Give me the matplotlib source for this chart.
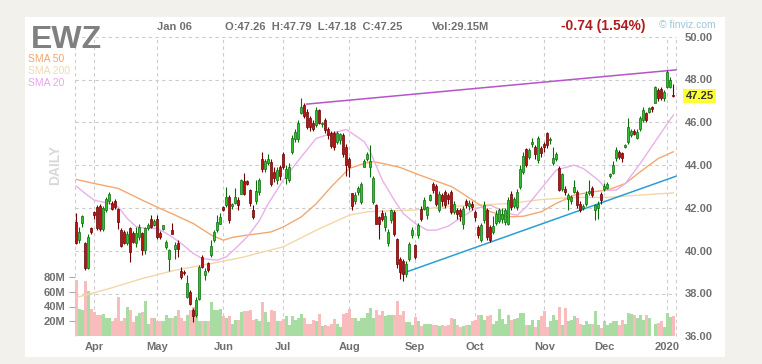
import matplotlib
matplotlib.use("Agg")
import matplotlib.pyplot as plt
from matplotlib.patches import Rectangle
import matplotlib.transforms as mtransforms

plt.rcParams['font.family'] = ['Liberation Sans', 'DejaVu Sans']

# ---------------- data ----------------
ticker = "EWZ"
opens = [41.35,40.49,41.30,40.34,39.17,41.07,41.79,42.05,42.10,41.00,
         41.90,42.30,42.24,42.30,41.97,40.96,40.88,40.34,41.04,40.84,
         40.37,40.65,40.84,40.02,41.04,41.50,41.20,41.47,40.84,41.00,
         40.15,39.63,40.95,40.10,40.34,39.06,39.00,37.84,38.08,37.22,
         36.98,37.76,39.71,38.86,39.43,39.79,40.49,40.96,41.27,42.05,
         42.13,42.52,42.07,42.24,42.36,42.67,43.25,43.25,42.83,41.90,
         42.30,42.75,44.28,43.80,44.10,44.15,43.70,43.30,43.90,44.50,
         43.40,43.30,44.62,45.20,45.20,46.45,46.80,46.50,46.18,45.98,
         45.87,46.57,45.90,46.10,45.70,45.50,45.48,45.10,45.15,45.40,
         44.86,44.30,42.70,42.30,42.75,42.28,43.90,44.30,43.90,42.28,
         42.13,41.58,41.74,41.10,40.34,41.43,41.80,40.57,39.63,39.50,
         38.93,39.63,40.72,40.26,40.72,41.97,41.97,41.66,42.36,43.14,
         43.00,41.90,42.60,42.75,42.60,42.75,41.82,41.90,41.90,41.27,
         42.30,42.10,42.20,41.80,41.12,40.49,41.43,41.90,41.12,40.88,
         41.30,41.40,41.50,41.35,41.27,42.64,42.10,42.05,42.98,43.69,
         44.73,44.40,45.00,44.86,44.23,44.80,45.00,45.48,45.15,44.10,
         44.30,43.88,42.86,42.90,42.40,42.30,42.75,42.75,42.20,42.00,
         42.20,42.70,42.95,41.90,42.00,42.67,42.86,42.95,43.50,43.64,
         44.31,44.62,44.55,44.85,45.09,45.40,45.60,45.25,45.70,46.10,
         46.42,46.50,46.70,46.92,47.53,47.55,47.15,47.66,47.66,47.26]
highs = [41.74,41.10,41.66,40.40,40.80,41.12,41.85,42.15,42.20,42.10,
         42.50,42.75,42.30,42.40,42.00,41.05,40.95,40.90,41.10,40.90,
         41.12,41.27,40.88,41.10,41.30,41.66,41.50,41.66,40.90,41.20,
         40.49,40.10,41.30,40.41,40.50,39.24,39.10,38.86,38.15,37.30,
         37.84,39.32,39.79,39.17,39.48,40.49,40.96,41.66,41.74,42.10,
         42.98,42.60,42.25,42.95,42.52,43.33,43.61,43.30,42.90,42.13,
         43.30,43.40,44.60,44.30,44.50,44.30,43.90,43.90,44.00,44.60,
         44.00,44.10,45.40,45.70,46.10,47.12,46.90,46.60,46.30,46.10,
         46.70,46.60,46.00,46.20,45.80,45.60,45.60,45.60,45.50,45.50,
         45.00,44.40,42.70,42.75,43.00,43.20,44.30,44.60,44.95,43.50,
         42.20,41.60,41.90,41.80,41.00,41.95,41.90,40.60,39.70,39.60,
         39.50,40.40,41.10,40.30,41.30,42.10,42.50,42.10,42.65,43.20,
         43.10,42.80,42.70,42.85,42.70,42.85,42.30,42.00,42.00,42.10,
         42.40,42.35,42.30,41.90,41.20,41.30,42.30,42.00,41.20,41.60,
         41.90,42.00,42.00,42.00,42.50,42.80,42.50,42.90,44.00,44.60,
         44.80,44.80,45.25,44.95,45.35,44.90,45.10,45.55,45.30,44.85,
         44.60,43.95,43.65,43.00,42.70,42.60,43.30,42.85,42.30,42.20,
         42.80,43.30,43.00,42.20,42.30,42.75,43.15,43.20,43.65,44.20,
         44.85,44.70,44.60,45.00,46.20,45.70,45.70,45.70,46.30,46.70,
         46.50,46.70,46.75,47.70,47.60,47.65,47.50,48.45,48.10,47.79]
lows = [40.30,40.37,41.12,39.10,39.15,40.80,41.50,40.95,40.90,40.90,
        41.80,42.20,41.90,41.95,41.00,40.18,40.30,40.26,39.45,40.35,
        40.18,40.50,39.80,39.85,40.95,41.05,41.15,40.57,40.55,40.95,
        40.10,39.06,40.80,39.63,39.70,38.70,38.85,37.80,37.45,36.67,
        36.90,37.69,39.17,38.62,39.00,39.71,40.41,40.88,41.24,41.85,
        42.05,41.30,41.95,42.20,41.90,42.64,42.60,43.05,42.10,41.50,
        42.20,42.60,43.70,43.70,44.00,43.00,43.20,43.10,43.30,43.80,
        43.10,43.20,44.50,45.10,45.10,46.40,46.20,45.70,45.60,45.60,
        45.80,45.90,45.80,45.50,45.20,44.80,44.70,45.00,45.00,44.40,
        43.50,43.45,41.90,42.20,42.60,42.20,43.90,44.20,43.45,42.20,
        41.27,40.57,41.40,40.90,40.20,41.30,40.70,39.20,38.70,38.60,
        38.75,39.50,40.60,39.60,40.60,41.40,41.90,41.50,42.30,42.70,
        42.10,41.80,42.10,42.00,42.20,41.70,41.70,41.50,41.40,41.00,
        42.00,41.90,41.90,41.40,40.60,40.40,41.30,40.50,40.40,40.80,
        41.20,41.30,41.30,41.20,41.20,41.90,42.00,41.90,42.90,43.60,
        43.90,44.30,44.85,44.30,44.10,44.40,44.60,44.80,45.00,44.00,
        44.20,42.80,42.80,42.60,41.90,42.20,42.70,42.00,41.80,41.90,
        42.10,42.60,42.50,41.45,41.50,42.20,42.80,42.90,43.40,43.60,
        44.20,44.30,44.15,44.80,45.00,45.30,45.40,45.20,45.60,46.00,
        46.00,46.45,46.50,46.90,47.00,47.05,47.00,47.60,47.60,47.18]
closes = [40.34,40.88,41.62,39.17,40.65,40.88,41.66,41.04,41.00,42.00,
          42.40,42.63,41.97,42.05,41.35,40.23,40.34,40.80,39.95,40.41,
          40.84,41.12,40.02,41.07,41.22,41.12,41.38,40.65,40.62,41.18,
          40.41,40.05,40.80,40.26,40.10,38.75,38.94,38.47,37.53,36.94,
          37.69,39.24,39.24,39.06,39.10,40.24,40.88,41.35,41.58,41.90,
          42.52,41.43,42.17,42.52,42.13,43.30,42.64,43.11,42.21,41.58,
          42.80,43.30,43.80,44.20,44.30,43.14,43.40,43.75,43.50,43.90,
          43.80,43.90,45.25,45.56,45.95,46.73,46.30,45.80,45.79,45.67,
          46.57,45.95,45.95,45.64,45.40,44.90,44.86,45.48,45.45,44.50,
          44.00,43.90,42.10,42.60,42.95,43.14,44.20,44.50,44.20,43.38,
          41.27,41.27,41.50,41.60,40.88,41.90,40.80,39.40,39.00,38.93,
          39.40,40.33,40.96,39.70,41.19,41.50,42.36,42.05,42.60,42.83,
          42.20,42.67,42.30,42.13,42.40,41.82,42.17,41.70,41.60,41.97,
          42.15,42.25,42.05,41.58,40.72,41.19,42.13,40.65,40.49,41.15,
          41.70,41.90,41.70,41.90,42.36,42.05,42.40,42.75,43.84,44.42,
          44.00,44.70,45.10,44.50,45.25,44.55,44.85,44.93,45.20,44.35,
          44.50,42.83,43.58,42.75,42.60,42.50,42.98,42.13,41.90,42.10,
          42.67,42.80,42.60,42.13,42.20,42.36,43.02,43.10,43.60,44.00,
          44.70,44.36,44.31,44.92,45.80,45.60,45.45,45.56,46.18,46.57,
          46.10,46.65,46.60,47.66,47.12,47.15,47.40,48.36,47.99,47.25]
volume_m = [75.6,36.7,35.0,74.0,61.0,37.0,32.0,29.0,29.0,30.0,
            24.0,24.0,20.0,24.0,53.0,21.0,24.0,39.0,35.0,19.0,
            27.0,31.0,32.0,48.0,17.0,24.0,24.0,21.0,20.0,20.0,
            29.0,24.0,24.0,27.0,35.0,24.0,20.0,29.0,35.0,40.0,
            31.0,21.0,20.0,20.0,21.0,45.5,35.0,35.0,37.0,27.0,
            24.0,27.0,17.0,22.0,22.0,32.0,34.0,34.0,35.0,22.0,
            23.0,20.0,46.0,32.0,19.0,35.0,34.0,21.0,20.0,23.0,
            27.0,15.0,27.0,22.0,24.0,30.0,24.0,17.0,17.0,22.0,
            20.0,30.0,14.0,15.0,14.0,17.0,23.0,17.0,13.0,30.0,
            31.0,37.0,25.0,25.0,20.0,24.0,25.0,31.0,38.0,24.0,
            35.0,28.0,34.0,27.0,28.0,28.0,29.0,48.0,29.0,34.0,
            19.0,19.0,15.0,26.0,20.0,14.0,17.0,17.0,17.0,15.0,
            15.0,14.0,15.0,14.0,15.0,24.0,23.0,15.0,13.0,14.0,
            15.0,15.0,20.0,22.0,29.0,28.0,22.0,27.0,28.0,16.0,
            20.0,36.0,23.0,16.0,29.0,22.0,23.0,24.0,31.0,31.0,
            15.0,15.0,22.0,13.0,22.0,27.0,34.0,12.0,20.0,29.0,
            22.0,39.0,15.0,38.0,20.0,22.0,27.0,24.0,17.0,15.0,
            20.0,17.0,17.0,34.0,15.0,11.0,21.0,15.0,18.0,21.0,
            20.0,15.0,22.0,17.0,31.0,30.0,29.0,24.0,29.0,22.0,
            29.0,24.0,1.0,17.0,18.0,20.0,12.0,31.0,26.0,27.0]

month_pos = [6, 27, 49, 69, 91, 113, 133, 156, 176, 197]
month_labels = ["Apr", "May", "Jun", "Jul", "Aug", "Sep", "Oct", "Nov", "Dec", "2020"]

sma50_x = [0,6,14,22,28,33,39,45,49,52,57,61,65,69,75,80,85,91,96,99,102,108,113,119,
           125,127,133,138,144,149,155,160,166,172,177,183,188,194,199]
sma50_v = [43.33,43.14,42.91,42.36,41.97,41.66,41.27,40.73,40.49,40.62,40.73,40.80,40.88,41.11,41.58,
           42.20,42.99,43.84,44.08,44.16,44.08,43.89,43.61,43.30,
           43.00,42.83,42.28,41.82,41.58,41.61,41.82,42.21,42.60,42.75,42.83,43.14,43.69,44.31,44.62]
sma200_x = [0,11,22,33,45,56,61,69,80,91,97,102,113,121,133,144,155,166,177,188,199]
sma200_v = [37.81,38.23,38.70,39.09,39.40,39.71,39.90,40.18,40.96,41.66,41.82,41.85,41.90,42.03,42.13,
            42.20,42.39,42.49,42.49,42.60,42.70]
sma20_x = [0,3,6,11,14,17,20,23,27,31,35,39,42,47,50,53,57,61,64,69,75,80,85,90,92,96,98,102,
           106,109,113,117,120,124,127,133,138,144,147,150,155,160,166,169,174,177,180,183,188,194,199]
sma20_v = [43.02,42.67,42.36,42.21,42.05,41.50,41.12,41.04,41.04,40.73,40.34,39.87,39.63,39.56,39.71,
           40.10,40.65,41.40,42.20,43.30,44.39,45.25,45.48,45.67,45.48,45.09,44.62,43.30,42.36,41.74,
           41.27,40.96,40.96,41.15,41.43,41.97,42.13,41.74,41.66,42.05,42.91,43.77,44.00,43.84,43.30,
           42.83,42.83,43.14,44.08,45.32,46.34]

upper_trend_x = [76.8, 199.9]
upper_trend_v = [46.85, 48.45]
lower_trend_x = [108.5, 199.9]
lower_trend_v = [38.93, 43.48]

price_ticks = [36, 38, 40, 42, 44, 46, 48, 50]
vol_ticks = [20, 40, 60, 80]
last_price = 47.25

# ---------------- figure ----------------
W, H = 762, 364
fig = plt.figure(figsize=(W / 100, H / 100), dpi=100)
fig.patch.set_facecolor('#f2f1ec')
fig.patches.append(Rectangle((25 / W, 1 - 357 / H), 700 / W, 340 / H,
                             transform=fig.transFigure, facecolor='white',
                             edgecolor='none', zorder=-5))

ax_bottom = 336.3
ax_top = 36.7
axv = fig.add_axes([75 / W, (H - ax_bottom) / H, 601 / W, (ax_bottom - ax_top) / H])
axv.set_facecolor('none')
ax = axv.twinx()
ax.set_facecolor('none')

xmin, xmax = -0.43, 199.9
axv.set_xlim(xmin, xmax)
ax.set_xlim(xmin, xmax)
ax.set_ylim(36, 50)
vol_max = 80 * (ax_bottom - ax_top) / 59.6
axv.set_ylim(0, vol_max)

for a in (ax, axv):
    for s in a.spines.values():
        s.set_visible(False)

grid_c = '#cccccc'
for p in price_ticks[1:]:
    f = (p - 36) / 14
    axv.plot([0, 1], [f, f], transform=axv.transAxes, color=grid_c, lw=0.8,
             ls=(0, (3, 3)), zorder=0.5, clip_on=False)
for m in month_pos:
    axv.axvline(m, color=grid_c, lw=0.8, ls=(0, (3, 3)), zorder=0.5)
for xe in (xmin, xmax):
    axv.axvline(xe, color=grid_c, lw=0.8, ls=(0, (3, 3)), zorder=0.5, clip_on=False)

idx = list(range(len(closes)))
up = [c >= o for o, c in zip(opens, closes)]

vcols = ['#a9dca3' if u else '#f9bcbc' for u in up]
axv.bar(idx, volume_m, width=1.0, color=vcols, edgecolor='none', zorder=1)

ax.plot(sma200_x, sma200_v, color='#f4d7a6', lw=1.0, zorder=2)
ax.plot(sma50_x, sma50_v, color='#f4a870', lw=1.0, zorder=2)
ax.plot(sma20_x, sma20_v, color='#eab0ea', lw=1.0, zorder=2)

ax.plot(upper_trend_x, upper_trend_v, color='#b555c9', lw=1.1, zorder=3, clip_on=False)
ax.plot(lower_trend_x, lower_trend_v, color='#2b9ed6', lw=1.1, zorder=3, clip_on=False)

for i in idx:
    o, h, l, c = opens[i], highs[i], lows[i], closes[i]
    if up[i]:
        fill, edge = '#2fbf2f', '#0b6e0b'
    else:
        fill, edge = '#b81414', '#6e0000'
    ax.vlines(i, l, h, color=edge, lw=0.8, zorder=4)
    bot = min(o, c)
    hgt = max(abs(c - o), 0.04)
    ax.bar(i, hgt, bottom=bot, width=0.72, color=fill, edgecolor=edge,
           linewidth=0.5, zorder=5)

lbl_c = '#707070'
ax.set_yticks(price_ticks)
ax.set_yticklabels([f"{p:.2f}" for p in price_ticks])
ax.tick_params(axis='y', length=0, pad=6.5, labelsize=8, labelcolor=lbl_c)
for t in ax.get_yticklabels():
    t.set_fontweight('bold')

axv.set_yticks(vol_ticks)
axv.set_yticklabels([f"{v}M" for v in vol_ticks])
axv.tick_params(axis='y', length=4, width=0.8, color='#aaaaaa', pad=3,
                labelsize=8, labelcolor=lbl_c)
for t in axv.get_yticklabels():
    t.set_fontweight('bold')

axv.set_xticks(month_pos)
axv.set_xticklabels(month_labels)
axv.tick_params(axis='x', length=0, pad=4, labelsize=8, labelcolor=lbl_c)
for t in axv.get_xticklabels():
    t.set_fontweight('bold')
ax.tick_params(axis='x', length=0, labelbottom=False)

blend = mtransforms.blended_transform_factory(ax.transAxes, ax.transData)
ax.text(1.0 + 9.5 / 601, last_price, f"{last_price:.2f}", transform=blend,
        ha='left', va='center', fontsize=8, fontweight='bold', color='#333333',
        bbox=dict(boxstyle='square,pad=0.18', facecolor='#ffff33', edgecolor='none'),
        zorder=10, clip_on=False)

def fx(px):
    return px / W

def fy(py):
    return 1 - py / H

fig.text(fx(31), fy(48), ticker, fontsize=23, fontweight='bold', color='#808080', va='baseline')
fig.text(fx(157), fy(27), "Jan 06", fontsize=8, fontweight='bold', color='#707070', va='center')
fig.text(fx(225), fy(27), "O:47.26  H:47.79  L:47.18  C:47.25", fontsize=8, fontweight='bold',
         color='#707070', va='center')
fig.text(fx(432), fy(27), "Vol:29.15M", fontsize=8, fontweight='bold', color='#707070', va='center')
fig.text(fx(561), fy(26), "-0.74 (1.54%)", fontsize=10, fontweight='bold', color='#b01c1c', va='center')
fig.text(fx(659), fy(25), "\u00a9 finviz.com", fontsize=7.5, color='#9cc6da', va='center')

fig.text(fx(28), fy(59), "SMA 50", fontsize=7.5, color='#f5a46a', va='center')
fig.text(fx(28), fy(71), "SMA 200", fontsize=7.5, color='#f3d9ae', va='center')
fig.text(fx(28), fy(83), "SMA 20", fontsize=7.5, color='#e8a6e8', va='center')
fig.text(fx(55), fy(165), "DAILY", fontsize=10, fontweight='bold', color='#d9d9d9',
         rotation=90, ha='center', va='center')

fig.savefig("out.png", dpi=100, facecolor=fig.get_facecolor())
